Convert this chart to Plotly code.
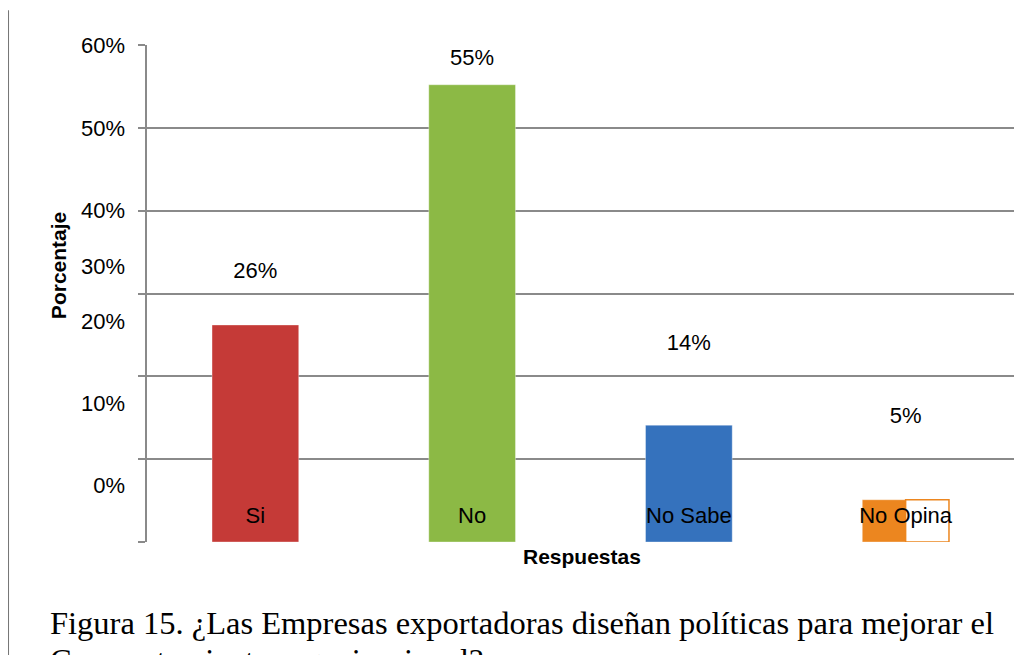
import plotly.graph_objects as go

# datos
respuestas = ["Si", "No", "No Sabe", "No Opina"]
porcentajes = [26.2, 55.2, 14.1, 5.1]
etiquetas_valor = ["26%", "55%", "14%", "5%"]
altura_etiquetas = [32.5, 58.2, 23.8, 15.0]   # donde quedaron las etiquetas en el escaneo
colores = ["#c53a37", "#8cb945", "#3572bd", "#ec861f"]

# el eje y del escaneo tiene las etiquetas corridas respecto a la grilla
ticks_grilla = [0, 10, 20, 30, 40, 50, 60]
texto_ticks = ["0%", "10%", "20%", "30%", "40%", "50%", "60%"]
pos_texto_ticks = [6.8, 16.8, 26.7, 33.3, 40, 50, 60]

fuente = "Liberation Sans Narrow, Arial Narrow, Liberation Sans, Arial"
serif = "Liberation Serif, Times New Roman, serif"
gris = "#8a8a8a"

fig = go.Figure()

fig.add_trace(go.Bar(x=respuestas, y=porcentajes, width=0.4,
                     marker=dict(color=colores,
                                 line=dict(color="rgba(255,255,255,0.35)", width=1)),
                     showlegend=False, hoverinfo="x+y"))

# parche blanco en "No Opina" (tapa parte de la barra en el original)
fig.add_trace(go.Bar(x=[respuestas[3]], y=[porcentajes[3]], width=0.2, offset=0,
                     marker=dict(color="white", line=dict(color="#ec861f", width=1.5)),
                     showlegend=False, hoverinfo="skip"))

# nombres de categoria dentro de las barras
fig.add_trace(go.Scatter(x=respuestas, y=[3.0] * len(respuestas), mode="text",
                         text=respuestas, textposition="middle center",
                         textfont=dict(family=fuente, size=22, color="black"),
                         showlegend=False, hoverinfo="skip"))

# etiquetas de porcentaje
fig.add_trace(go.Scatter(x=respuestas, y=altura_etiquetas, mode="text",
                         text=etiquetas_valor, textposition="middle center",
                         textfont=dict(family=fuente, size=22, color="black"),
                         showlegend=False, hoverinfo="skip"))

# traza invisible para el eje de etiquetas
fig.add_trace(go.Scatter(x=respuestas, y=porcentajes, mode="markers",
                         marker=dict(opacity=0), yaxis="y2",
                         showlegend=False, hoverinfo="skip"))

fig.update_layout(
    width=1031, height=655,
    margin=dict(l=139, r=25, t=37, b=121),
    paper_bgcolor="white", plot_bgcolor="white",
    barmode="overlay",
    xaxis=dict(showticklabels=False, ticks="", showgrid=False, zeroline=False,
               showline=False),
    yaxis=dict(range=[0, 60], tickvals=ticks_grilla, showticklabels=False,
               ticks="outside", ticklen=7, tickcolor=gris, tickwidth=1.5,
               showgrid=True, gridcolor=gris, gridwidth=1.5,
               showline=True, linecolor=gris, linewidth=1.5, zeroline=False),
    yaxis2=dict(range=[0, 60], overlaying="y", side="left", tickvals=pos_texto_ticks,
                ticktext=texto_ticks, ticks="", showgrid=False, zeroline=False,
                showline=False, ticklabelstandoff=21,
                tickfont=dict(family=fuente, size=22, color="black")),
)

# borde de pagina a la izquierda
fig.add_shape(type="line", xref="paper", yref="paper", x0=-0.160, x1=-0.160,
              y0=1.07, y1=-0.25, line=dict(color="#777777", width=1.5))

fig.add_annotation(text="<b>Respuestas</b>", xref="paper", yref="paper",
                   x=0.502, y=-0.03, xanchor="center", yanchor="middle",
                   showarrow=False, font=dict(family=fuente, size=21, color="black"))
fig.add_annotation(text="<b>Porcentaje</b>", xref="paper", yref="paper",
                   x=-0.1027, y=0.557, textangle=-90, xanchor="center", yanchor="middle",
                   showarrow=False, font=dict(family=fuente, size=21, color="black"))

fig.add_annotation(text="Figura 15. ¿Las Empresas exportadoras diseñan políticas para mejorar el",
                   xref="paper", yref="paper", x=-0.1142, y=-0.163,
                   xanchor="left", yanchor="middle", showarrow=False,
                   font=dict(family=serif, size=32.5, color="black"))
fig.add_annotation(text="Comportamiento organizacional?",
                   xref="paper", yref="paper", x=-0.1142, y=-0.237,
                   xanchor="left", yanchor="middle", showarrow=False,
                   font=dict(family=serif, size=32.5, color="black"))

fig.write_html("out.html")
